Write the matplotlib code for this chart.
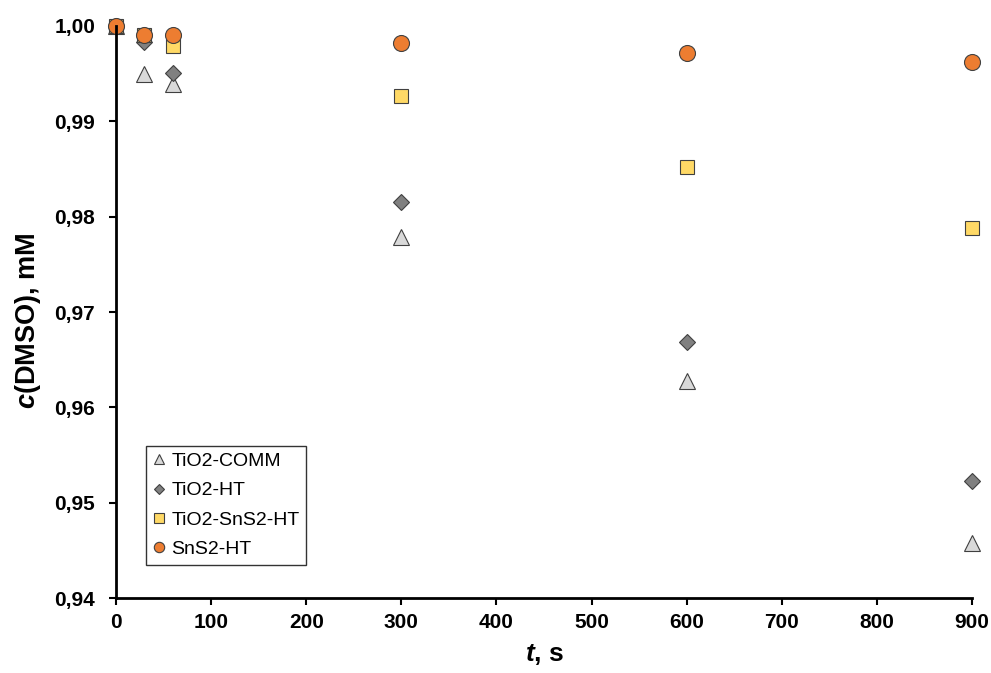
import matplotlib
matplotlib.use("Agg")
import matplotlib.pyplot as plt
from matplotlib.ticker import FuncFormatter, MultipleLocator

plt.rcParams['font.family'] = ['Liberation Sans', 'DejaVu Sans']
plt.rcParams['mathtext.fontset'] = 'custom'
plt.rcParams['mathtext.rm'] = 'Liberation Sans'
plt.rcParams['mathtext.it'] = 'Liberation Sans:italic'
plt.rcParams['mathtext.bf'] = 'Liberation Sans:bold'
plt.rcParams['mathtext.bfit'] = 'Liberation Sans:italic:bold'

t = [0, 30, 60, 300, 600, 900]
tio2_comm = [1.0, 0.9950, 0.9939, 0.9779, 0.9628, 0.9458]
tio2_ht = [1.0, 0.9983, 0.9951, 0.9815, 0.9669, 0.9523]
tio2_sns2_ht = [1.0, 0.9991, 0.9979, 0.9927, 0.9852, 0.9788]
sns2_ht = [1.0, 0.9991, 0.9991, 0.9982, 0.9972, 0.9962]

fig = plt.figure(figsize=(9.91, 6.73), dpi=100)
ax = fig.add_axes([0.117, 0.1114, 0.864, 0.85])

ax.plot(t, tio2_comm, linestyle='none', marker='^', markersize=11.5,
        markerfacecolor='#d9d9d9', markeredgecolor='#404040', markeredgewidth=0.8, label='TiO2-COMM')
ax.plot(t, tio2_ht, linestyle='none', marker='D', markersize=8.5,
        markerfacecolor='#808080', markeredgecolor='#404040', markeredgewidth=0.8, label='TiO2-HT')
ax.plot(t, tio2_sns2_ht, linestyle='none', marker='s', markersize=10.5,
        markerfacecolor='#ffd966', markeredgecolor='#404040', markeredgewidth=0.8, label='TiO2-SnS2-HT')
ax.plot(t, sns2_ht, linestyle='none', marker='o', markersize=11.5,
        markerfacecolor='#ed7d31', markeredgecolor='#404040', markeredgewidth=0.8, label='SnS2-HT')

ax.set_xlim(0, 900)
ax.set_ylim(0.94, 1.0)
ax.xaxis.set_major_locator(MultipleLocator(100))
ax.yaxis.set_major_locator(MultipleLocator(0.01))
ax.yaxis.set_major_formatter(FuncFormatter(lambda v, p: f"{v:.2f}".replace('.', ',')))

for s in ['top', 'right']:
    ax.spines[s].set_visible(False)
for s in ['left', 'bottom']:
    ax.spines[s].set_linewidth(2)
    ax.spines[s].set_color('black')
ax.tick_params(axis='both', direction='out', width=1.5, length=5, labelsize=15)
ax.tick_params(axis='y', pad=10)
ax.tick_params(axis='x', pad=6)
for lab in ax.get_xticklabels() + ax.get_yticklabels():
    lab.set_fontweight('bold')

ax.set_xlabel(r'$\bfit{t}$, s', fontsize=19, fontweight='bold', labelpad=7)
ax.set_ylabel(r'$\bfit{c}$(DMSO), mM', fontsize=19.5, fontweight='bold', labelpad=8)
ax.yaxis.label.set_y(0.484)

for m in ax.lines:
    m.set_clip_on(False)

leg = ax.legend(loc='lower left', bbox_to_anchor=(0.035, 0.058), borderaxespad=0, fontsize=14,
                frameon=True, fancybox=False, edgecolor='black', markerscale=0.65,
                handlelength=0.6, handletextpad=0.35, borderpad=0.35, labelspacing=0.6)
leg.get_frame().set_linewidth(1.0)

fig.savefig('out.png', dpi=100)
